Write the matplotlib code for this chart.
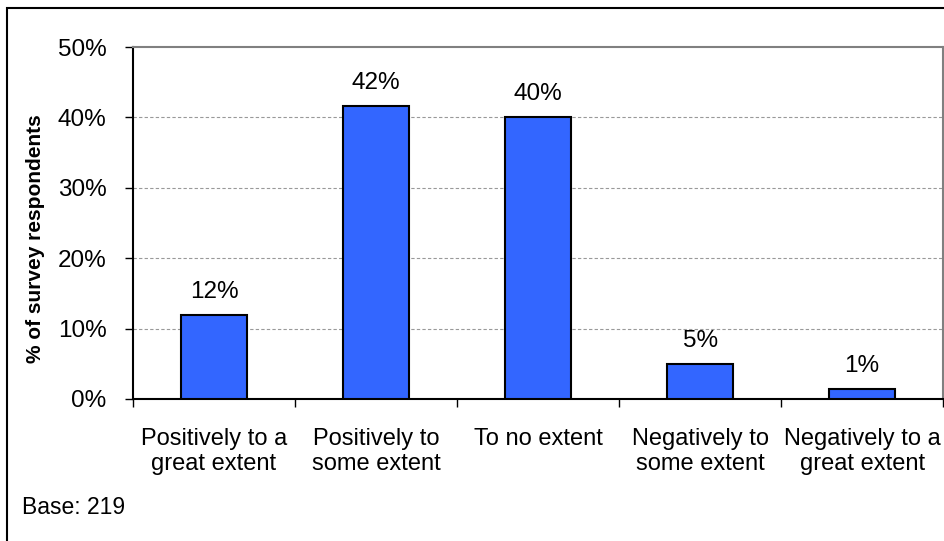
import matplotlib
matplotlib.use("Agg")
import matplotlib.pyplot as plt
from matplotlib.patches import Rectangle
from matplotlib.ticker import FixedLocator, NullFormatter, PercentFormatter

categories = ["Positively to a\ngreat extent", "Positively to\nsome extent", "To no extent",
              "Negatively to\nsome extent", "Negatively to a\ngreat extent"]
values = [11.9, 41.6, 40.1, 5.0, 1.4]
labels = ["12%", "42%", "40%", "5%", "1%"]
yticks = [0, 10, 20, 30, 40, 50]

plt.rcParams['font.family'] = ['Liberation Sans', 'DejaVu Sans']

fig = plt.figure(figsize=(9.45, 5.41), dpi=100)
ax = fig.add_axes([0.1407, 0.2625, 0.998 - 0.1407, 0.913 - 0.2625])

x = list(range(len(categories)))
ax.bar(x, values, width=0.41, color="#3366FF", edgecolor="black", linewidth=1.5, zorder=3)
for xi, v, lab in zip(x, values, labels):
    ax.text(xi, v + 3.3, lab, ha="center", va="center", fontsize=17.5)

ax.set_xlim(-0.5, len(categories) - 0.5)
ax.set_ylim(0, 50)
ax.set_yticks(yticks)
ax.yaxis.set_major_formatter(PercentFormatter(decimals=0))
ax.tick_params(axis="y", labelsize=17.5, length=6, width=1, direction="out", pad=13)
ax.set_xticks(x)
ax.set_xticklabels(categories, fontsize=17, linespacing=1.18)
ax.tick_params(axis="x", length=0, pad=21)
ax.xaxis.set_minor_locator(FixedLocator([i + 0.5 for i in range(-1, len(categories))]))
ax.xaxis.set_minor_formatter(NullFormatter())
ax.tick_params(axis="x", which="minor", length=6, width=1, direction="out")

for yv in yticks[1:-1]:
    ax.axhline(yv, color="#999999", linestyle=(0, (3, 2)), linewidth=0.8, zorder=1)

ax.spines["left"].set_color("black")
ax.spines["left"].set_linewidth(1.5)
ax.spines["bottom"].set_color("black")
ax.spines["bottom"].set_linewidth(1.5)
ax.spines["top"].set_color("#808080")
ax.spines["top"].set_linewidth(1.5)
ax.spines["right"].set_color("#808080")
ax.spines["right"].set_linewidth(1.5)

ax.set_ylabel("% of survey respondents", fontsize=15, fontweight="bold")
ax.yaxis.set_label_coords(-(133 - 45) / 810, (399 - 239) / 352)

fig.text(22 / 945, 1 - 508 / 541, "Base: 219", fontsize=16.5, va="center", ha="left")

fig.patches.append(Rectangle((7 / 945, -0.05), 1.2, 1 - 8 / 541 + 0.05, transform=fig.transFigure,
                             fill=False, edgecolor="black", linewidth=1.5))

fig.savefig("out.png", dpi=100)
